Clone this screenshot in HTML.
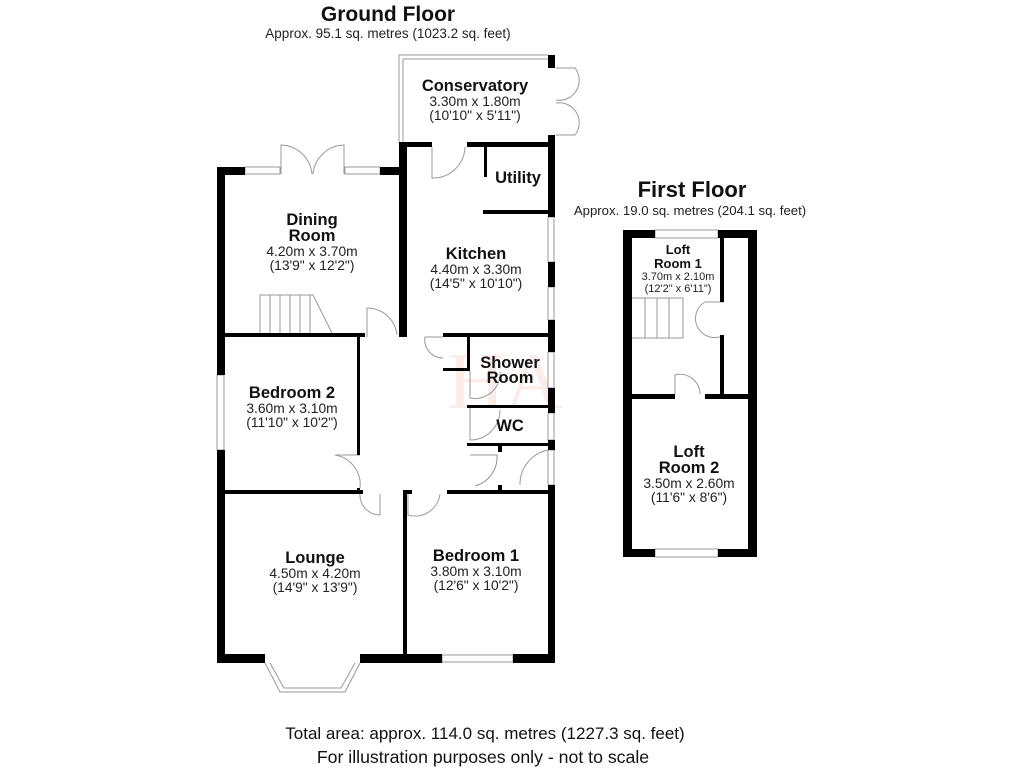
<!DOCTYPE html>
<html><head><meta charset="utf-8"><style>
html,body{margin:0;padding:0;background:#fff;}
svg{display:block;font-family:"Liberation Sans",sans-serif;}
.b{font-weight:bold;font-size:16.5px;fill:#111;}
.s{font-size:13.8px;fill:#222;}
.t{font-size:11px;fill:#222;}
</style></head><body>
<svg width="1024" height="768" viewBox="0 0 1024 768">
<text x="505" y="408" text-anchor="middle" font-family="Liberation Serif,serif" font-size="80" fill="#f7e4e0" opacity="0.7">HA</text>

<text x="388" y="21" text-anchor="middle" font-weight="bold" font-size="21" fill="#111">Ground Floor</text>
<text x="388" y="38" text-anchor="middle" font-size="13.5" fill="#222">Approx. 95.1 sq. metres (1023.2 sq. feet)</text>
<text x="692" y="197" text-anchor="middle" font-weight="bold" font-size="22" fill="#111">First Floor</text>
<text x="690" y="215" text-anchor="middle" font-size="13.2" fill="#222">Approx. 19.0 sq. metres (204.1 sq. feet)</text>
<text x="485" y="739" text-anchor="middle" font-size="17" fill="#111">Total area: approx. 114.0 sq. metres (1227.3 sq. feet)</text>
<text x="483" y="763" text-anchor="middle" font-size="17.7" fill="#111">For illustration purposes only - not to scale</text>

<g fill="none" stroke="#999" stroke-width="1">
<path d="M399 142V55H548M403 142V59H548"/>
<rect x="245" y="167" width="35" height="7"/><rect x="345" y="167" width="35" height="7"/>
<rect x="548" y="217" width="6" height="45"/><rect x="548" y="287" width="6" height="33"/>
<rect x="548" y="352" width="6" height="36"/><rect x="548" y="413" width="6" height="27"/>
<rect x="548" y="450" width="6" height="35"/>
<rect x="217" y="375" width="7" height="75"/>
<rect x="442" y="655" width="71" height="7"/>
<path d="M265 663L280 692H345L360 663M270 663L284 688H341L355 663"/>
<path d="M281 174V145A32 32 0 0 1 312 174M344 174V145A32 32 0 0 0 313 174"/>
<path d="M556 68H575A20 20 0 0 1 556 100M556 135H575A20 20 0 0 0 556 103"/>
<path d="M432 147V178A32 32 0 0 0 465 147"/>
<path d="M367 337V308A30 30 0 0 1 397 335"/>
<path d="M443 337H425A18 18 0 0 0 443 358"/>
<path d="M360 455H335A30 30 0 0 1 360 488"/>
<path d="M380 494V515A20 20 0 0 1 360 494M408 494V515A25 25 0 0 0 440 494"/>
<path d="M470 371V398A25 25 0 0 0 500 372"/>
<path d="M470 408V440A30 30 0 0 0 500 410"/>
<path d="M470 455H497A30 30 0 0 1 475 486"/>
<path d="M548 450A35 35 0 0 0 520 485"/>
<path d="M724 302H705A18 18 0 0 0 724 335"/>
<path d="M675 394V375A20 20 0 0 1 700 394"/>
<path d="M260 333V295H313L332 333M270 295V333M280 295V333M290 295V333M300 295V333M310 295V333"/>
<path d="M632 298H683V338H632M645 298V338M657 298V338M669 298V338"/>
<rect x="655" y="230" width="63" height="8"/><rect x="655" y="549" width="63" height="8"/>
</g>

<g fill="#000">
<rect x="217" y="167" width="28" height="8"/><rect x="380" y="167" width="27" height="8"/>
<rect x="217" y="167" width="8" height="208"/><rect x="217" y="450" width="8" height="213"/>
<rect x="217" y="654" width="48" height="9"/><rect x="360" y="654" width="82" height="9"/><rect x="513" y="654" width="42" height="9"/>
<rect x="399" y="142" width="8" height="195"/>
<rect x="548" y="55" width="7" height="13"/>
<rect x="548" y="135" width="7" height="82"/><rect x="548" y="262" width="7" height="25"/>
<rect x="548" y="320" width="7" height="32"/><rect x="548" y="388" width="7" height="25"/>
<rect x="548" y="440" width="7" height="10"/><rect x="548" y="485" width="7" height="178"/>
<rect x="399" y="142" width="33" height="5"/><rect x="467" y="142" width="85" height="5"/>
<rect x="484" y="142" width="3" height="35"/><rect x="483" y="210" width="69" height="4"/>
<rect x="217" y="333" width="148" height="4"/>
<rect x="443" y="333" width="109" height="4"/>
<rect x="357" y="337" width="3" height="118"/><rect x="357" y="488" width="3" height="6"/>
<rect x="217" y="490" width="146" height="4"/>
<rect x="403" y="490" width="9" height="4"/><rect x="447" y="490" width="105" height="4"/>
<rect x="403" y="490" width="4" height="165"/>
<rect x="467" y="337" width="3" height="34"/><rect x="443" y="368" width="27" height="3"/>
<rect x="467" y="405" width="85" height="3"/><rect x="467" y="443" width="85" height="3"/>
<rect x="498" y="446" width="4" height="6"/><rect x="498" y="485" width="4" height="6"/>
<rect x="623" y="230" width="32" height="8"/><rect x="718" y="230" width="39" height="8"/>
<rect x="623" y="230" width="9" height="327"/><rect x="748" y="230" width="9" height="327"/>
<rect x="623" y="549" width="32" height="8"/><rect x="718" y="549" width="39" height="8"/>
<rect x="720" y="238" width="4" height="64"/><rect x="720" y="335" width="4" height="60"/>
<rect x="623" y="394" width="52" height="5"/><rect x="705" y="394" width="52" height="5"/>
</g>

<g text-anchor="middle">
<text class="b" x="475" y="91">Conservatory</text>
<text class="s" x="475" y="106">3.30m x 1.80m</text>
<text class="s" x="475" y="120">(10'10" x 5'11")</text>
<text class="b" x="518" y="183">Utility</text>
<text class="b" x="312" y="225">Dining</text>
<text class="b" x="312" y="241">Room</text>
<text class="s" x="312" y="256">4.20m x 3.70m</text>
<text class="s" x="312" y="270">(13'9" x 12'2")</text>
<text class="b" x="476" y="259">Kitchen</text>
<text class="s" x="476" y="274">4.40m x 3.30m</text>
<text class="s" x="476" y="288">(14'5" x 10'10")</text>
<text class="b" x="510" y="368">Shower</text>
<text class="b" x="510" y="383">Room</text>
<text class="b" x="510" y="431">WC</text>
<text class="b" x="292" y="398">Bedroom 2</text>
<text class="s" x="292" y="413">3.60m x 3.10m</text>
<text class="s" x="292" y="427">(11'10" x 10'2")</text>
<text class="b" x="315" y="563">Lounge</text>
<text class="s" x="315" y="578">4.50m x 4.20m</text>
<text class="s" x="315" y="592">(14'9" x 13'9")</text>
<text class="b" x="476" y="561">Bedroom 1</text>
<text class="s" x="476" y="576">3.80m x 3.10m</text>
<text class="s" x="476" y="590">(12'6" x 10'2")</text>
<text class="b" x="678" y="254" style="font-size:13px">Loft</text>
<text class="b" x="678" y="268" style="font-size:13px">Room 1</text>
<text class="t" x="678" y="280">3.70m x 2.10m</text>
<text class="t" x="678" y="292">(12'2" x 6'11")</text>
<text class="b" x="689" y="457">Loft</text>
<text class="b" x="689" y="473">Room 2</text>
<text class="s" x="689" y="488">3.50m x 2.60m</text>
<text class="s" x="689" y="502">(11'6" x 8'6")</text>
</g>
</svg>
</body></html>
